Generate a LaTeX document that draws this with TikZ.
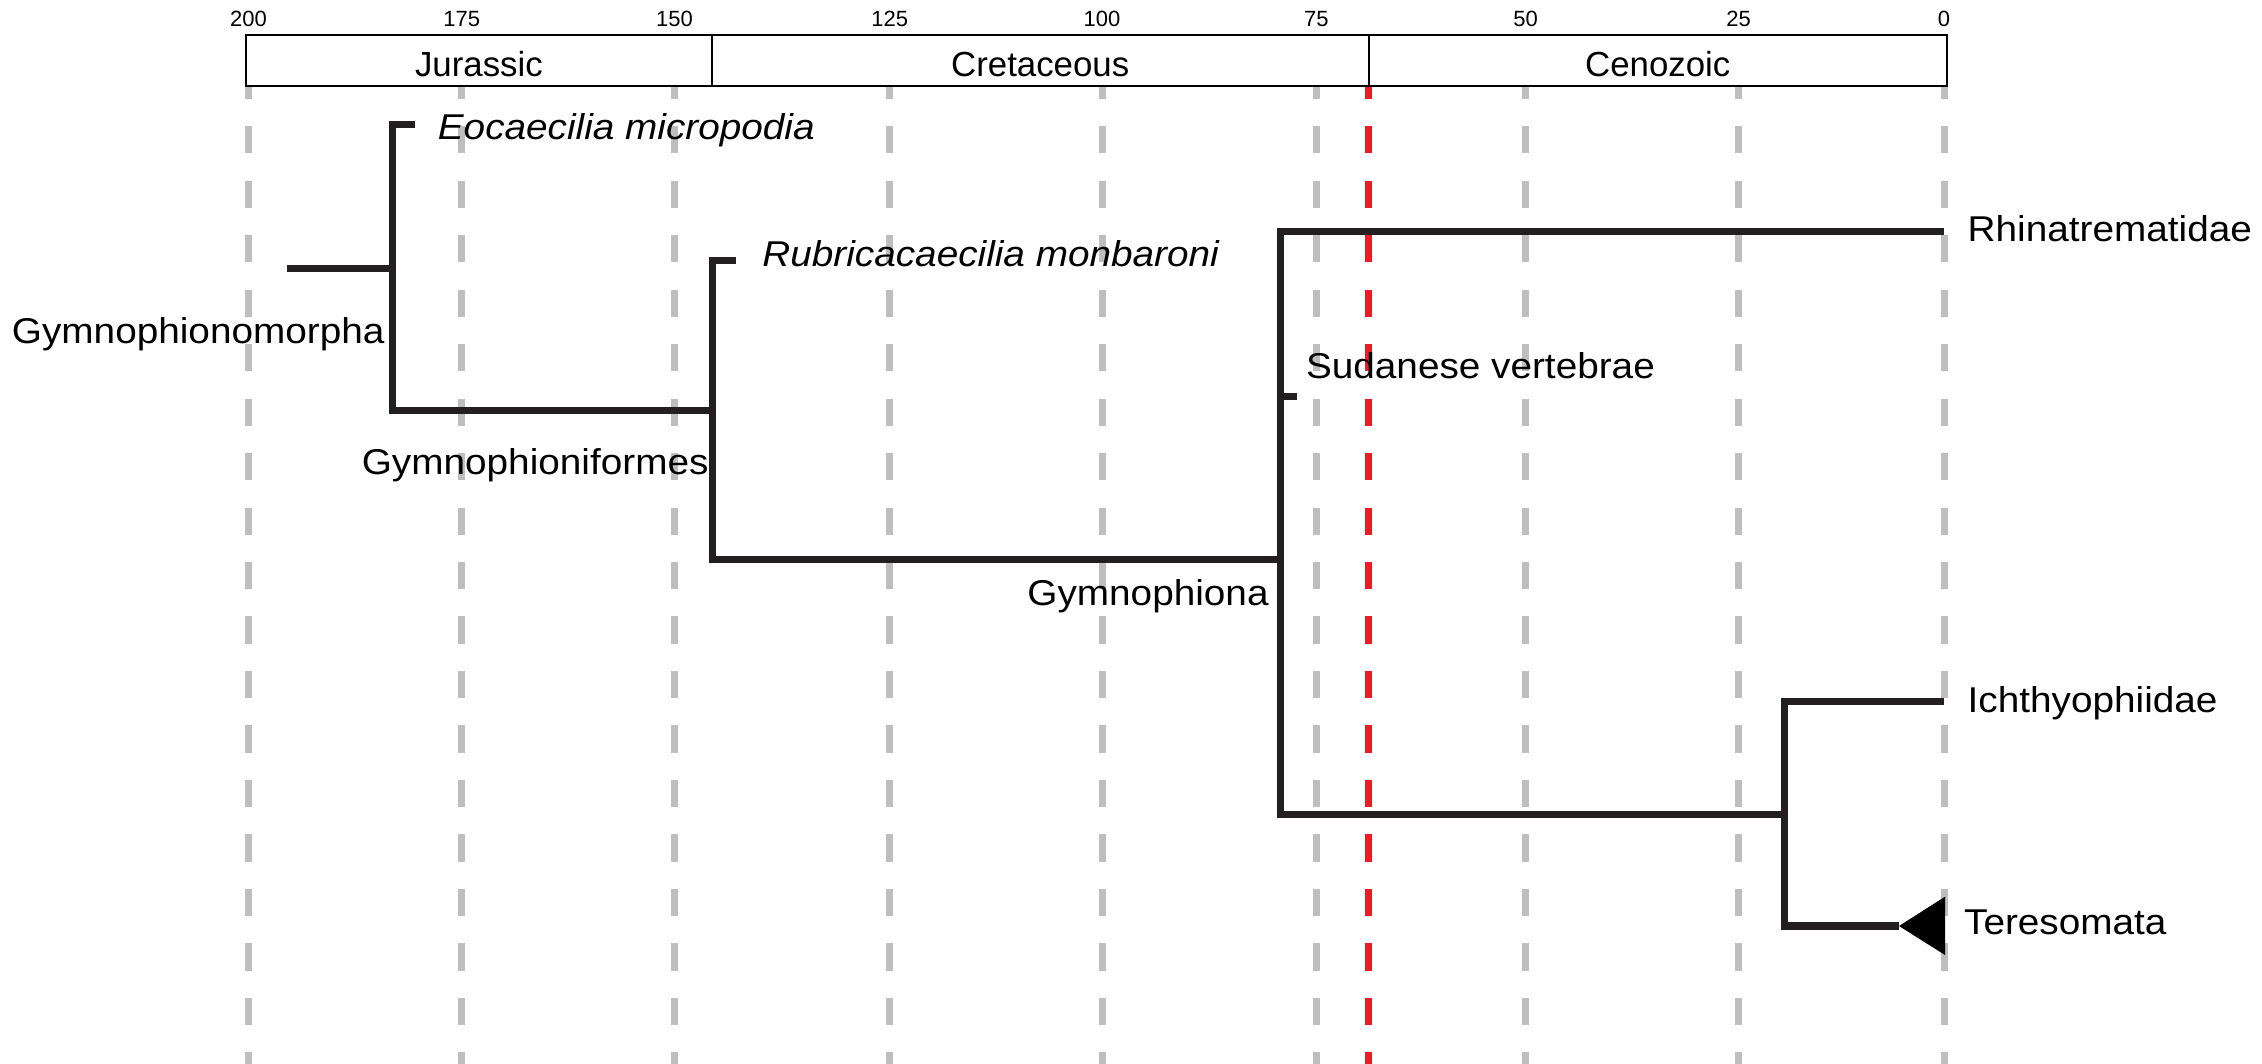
\documentclass[tikz,border=0pt]{standalone}
\usepackage{fontspec}
\setmainfont{Liberation Sans}
\newfontfamily\treefont[FakeStretch=1.08]{Liberation Sans}
\definecolor{branchcol}{RGB}{35,31,32}
\definecolor{gridgray}{RGB}{190,190,190}
\definecolor{kpgred}{RGB}{237,28,36}
\begin{document}
\begin{tikzpicture}[x=0.01cm,y=-0.01cm,
  gridline/.style={line width=0.07cm, dash pattern=on 0.272cm off 0.2725cm},
  treeline/.style={draw=branchcol, line width=0.07cm},
  ticklabel/.style={inner sep=0pt, anchor=base, font=\fontsize{6.26pt}{7pt}\selectfont},
  periodlabel/.style={inner sep=0pt, anchor=base, font=\fontsize{9.9pt}{11pt}\selectfont},
  taxon/.style={inner sep=0pt, font=\treefont\fontsize{10.2pt}{12pt}\selectfont},
  taxonit/.style={taxon, font=\treefont\fontsize{10.2pt}{12pt}\selectfont\itshape}]
\useasboundingbox (0,0) rectangle (2262,1064);

% time scale: tick labels and dashed guide lines
\foreach \age/\xx in {200/248.5,175/461.7,150/674.5,125/889.8,100/1102,75/1316.3,50/1525.5,25/1738.6,0/1944}{
  \node[ticklabel] (tick\age) at (\xx,26.7) {\age};
  \draw[gridline, gridgray] (\xx,71.65) -- (\xx,1064);
}
% K-Pg boundary
\draw[gridline, kpgred] (1368.6,71.65) -- (1368.6,1064);

% period bar
\draw[line width=0.02cm, fill=white] (246,35.5) rectangle (1947,85.8);
\draw[line width=0.02cm] (711.7,35.5) -- (711.7,85.8);
\draw[line width=0.02cm] (1368.6,35.5) -- (1368.6,85.8);
\node[periodlabel] (jur) at (478.9,76.7) {Jurassic};
\node[periodlabel] (cre) at (1040.2,76.7) {Cretaceous};
\node[periodlabel] (cen) at (1657.8,76.7) {Cenozoic};

% tree nodes and tips
\coordinate (root) at (286.7,269);
\coordinate (gmorpha) at (392.9,269);
\coordinate (eocTip) at (415,125);
\coordinate (gform) at (712.7,410.7);
\coordinate (rubTip) at (735.7,261);
\coordinate (gphiona) at (1280.3,559.5);
\coordinate (rhinTip) at (1944,232);
\coordinate (sudTip) at (1297.3,396.7);
\coordinate (crown) at (1784.5,814.5);
\coordinate (ichTip) at (1944,702);
\coordinate (terTip) at (1899,926);

% branches
\draw[treeline] (root) -- (gmorpha);
\draw[treeline] (gmorpha) |- (eocTip);
\draw[treeline] (gmorpha) |- (gform);
\draw[treeline] (gform) |- (rubTip);
\draw[treeline] (gform) |- (gphiona);
\draw[treeline] (gphiona) |- (rhinTip);
\draw[treeline] (gphiona) |- (sudTip);
\draw[treeline] (gphiona) |- (crown);
\draw[treeline] (crown) |- (ichTip);
\draw[treeline] (crown) |- (terTip);

% collapsed clade
\fill[black] (terTip) -- (1945,896.7) -- (1945,955) -- cycle;

% labels
\node[taxonit, anchor=base west] (eocL) at (437.2,140) {Eocaecilia micropodia};
\node[taxonit, anchor=base west] (rubL) at (761.7,267) {Rubricacaecilia monbaroni};
\node[taxon, anchor=base west] (rhinL) at (1967,241.7) {Rhinatrematidae};
\node[taxon, anchor=base west] (sudL) at (1305.3,378.3) {Sudanese vertebrae};
\node[taxon, anchor=base west] (ichL) at (1967,712.7) {Ichthyophiidae};
\node[taxon, anchor=base west] (terL) at (1963.4,935) {Teresomata};
\node[taxon, anchor=base east] (gmorphaL) at (385.2,343.3) {Gymnophionomorpha};
\node[taxon, anchor=base east] (gformL) at (709.2,475) {Gymnophioniformes};
\node[taxon, anchor=base east] (gphionaL) at (1269.3,606) {Gymnophiona};
\end{tikzpicture}
\end{document}
